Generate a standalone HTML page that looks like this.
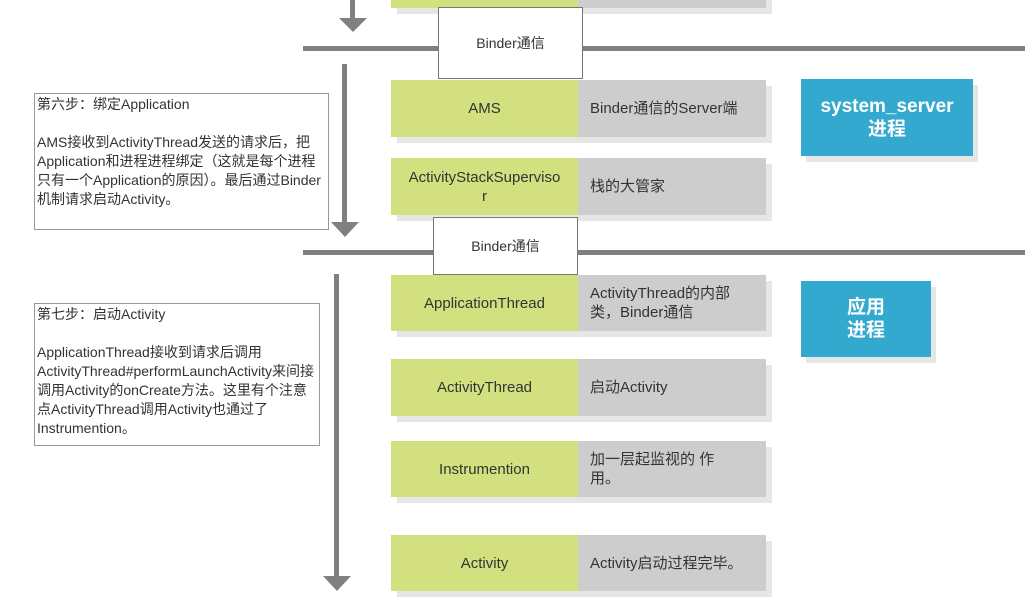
<html><head><style>
body{margin:0;width:1025px;height:604px;background:#fff;position:relative;overflow:hidden;font-family:"Liberation Sans","Noto Sans CJK SC",sans-serif;}
.a{position:absolute;box-sizing:border-box}
.g{background:#d3e07f;color:#333;font-size:15px;text-align:center;display:flex;align-items:center;justify-content:center;line-height:19px}
.y{background:#cdcdcd;color:#333;font-size:15px;display:flex;align-items:center;padding-left:12px;line-height:19px}
.sh{background:#e6e6e6}
.hl{background:#808080;height:5px}
.vl{background:#808080;width:5px}
.b{background:#fff;border:1px solid #777;font-size:14px;color:#333;display:flex;align-items:center;justify-content:center}
.t{border:1px solid #999;background:#fff;font-size:14px;color:#333;line-height:19px;padding:1px 2px}
.bl{background:#34a9d0;color:#fff;font-weight:bold;font-size:19px;text-align:center;display:flex;align-items:center;justify-content:center;line-height:23px}
</style></head><body>
<div class="a hl" style="left:303px;top:46px;width:722px"></div>
<div class="a hl" style="left:303px;top:250px;width:722px"></div>

<div class="a vl" style="left:350px;top:0;height:20px"></div>
<div class="a" style="left:339px;top:18px;border-left:14px solid transparent;border-right:14px solid transparent;border-top:14px solid #808080;width:0;height:0"></div>
<div class="a vl" style="left:342px;top:64px;height:160px"></div>
<div class="a" style="left:331px;top:222px;border-left:14px solid transparent;border-right:14px solid transparent;border-top:15px solid #808080;width:0;height:0"></div>
<div class="a vl" style="left:334px;top:274px;height:304px"></div>
<div class="a" style="left:323px;top:576px;border-left:14px solid transparent;border-right:14px solid transparent;border-top:15px solid #808080;width:0;height:0"></div>

<!-- top partial row -->
<div class="a sh" style="left:397px;top:0;width:375px;height:14px"></div>
<div class="a g" style="left:391px;top:0;width:187px;height:8px"></div>
<div class="a y" style="left:578px;top:0;width:188px;height:8px"></div>

<div class="a sh" style="left:397px;top:86px;width:375px;height:57px"></div>
<div class="a g" style="left:391px;top:80px;width:187px;height:57px">AMS</div>
<div class="a y" style="left:578px;top:80px;width:188px;height:57px">Binder通信的Server端</div>

<div class="a sh" style="left:397px;top:164px;width:375px;height:57px"></div>
<div class="a g" style="left:391px;top:158px;width:187px;height:57px">ActivityStackSuperviso<br>r</div>
<div class="a y" style="left:578px;top:158px;width:188px;height:57px">栈的大管家</div>

<div class="a sh" style="left:397px;top:281px;width:375px;height:56px"></div>
<div class="a g" style="left:391px;top:275px;width:187px;height:56px">ApplicationThread</div>
<div class="a y" style="left:578px;top:275px;width:188px;height:56px">ActivityThread的内部<br>类，Binder通信</div>

<div class="a sh" style="left:397px;top:365px;width:375px;height:57px"></div>
<div class="a g" style="left:391px;top:359px;width:187px;height:57px">ActivityThread</div>
<div class="a y" style="left:578px;top:359px;width:188px;height:57px">启动Activity</div>

<div class="a sh" style="left:397px;top:447px;width:375px;height:56px"></div>
<div class="a g" style="left:391px;top:441px;width:187px;height:56px">Instrumention</div>
<div class="a y" style="left:578px;top:441px;width:188px;height:56px">加一层起监视的 作<br>用。</div>

<div class="a sh" style="left:397px;top:541px;width:375px;height:56px"></div>
<div class="a g" style="left:391px;top:535px;width:187px;height:56px">Activity</div>
<div class="a y" style="left:578px;top:535px;width:188px;height:56px">Activity启动过程完毕。</div>

<div class="a b" style="left:438px;top:7px;width:145px;height:72px">Binder通信</div>
<div class="a b" style="left:433px;top:217px;width:145px;height:58px">Binder通信</div>

<div class="a t" style="left:34px;top:93px;width:295px;height:137px">第六步：绑定Application<br><br>AMS接收到ActivityThread发送的请求后，把Application和进程进程绑定（这就是每个进程只有一个Application的原因）。最后通过Binder机制请求启动Activity。</div>
<div class="a t" style="left:34px;top:303px;width:286px;height:143px">第七步：启动Activity<br><br>ApplicationThread接收到请求后调用ActivityThread#performLaunchActivity来间接调用Activity的onCreate方法。这里有个注意点ActivityThread调用Activity也通过了Instrumention。</div>

<div class="a sh" style="left:806px;top:85px;width:172px;height:77px"></div>
<div class="a bl" style="left:801px;top:79px;width:172px;height:77px">system_server<br>进程</div>
<div class="a sh" style="left:806px;top:287px;width:130px;height:76px"></div>
<div class="a bl" style="left:801px;top:281px;width:130px;height:76px">应用<br>进程</div>
</body></html>
